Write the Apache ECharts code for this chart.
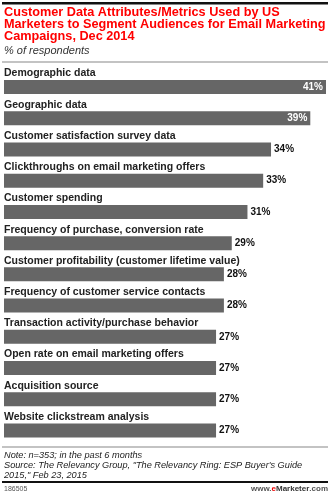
<!DOCTYPE html>
<html><head><meta charset="utf-8">
<script src="https://cdn.jsdelivr.net/npm/echarts@6/dist/echarts.min.js"></script>
<style>html,body{margin:0;padding:0;background:#fff}#c{width:330px;height:500px}</style>
</head><body><div id="c"></div>
<script>
const titleText = "Customer Data Attributes/Metrics Used by US\nMarketers to Segment Audiences for Email Marketing\nCampaigns, Dec 2014";
const subtitleText = "% of respondents";
const categories = [
  "Demographic data",
  "Geographic data",
  "Customer satisfaction survey data",
  "Clickthroughs on email marketing offers",
  "Customer spending",
  "Frequency of purchase, conversion rate",
  "Customer profitability (customer lifetime value)",
  "Frequency of customer service contacts",
  "Transaction activity/purchase behavior",
  "Open rate on email marketing offers",
  "Acquisition source",
  "Website clickstream analysis"
];
const values = [41, 39, 34, 33, 31, 29, 28, 28, 27, 27, 27, 27];
const noteText = "Note: n=353; in the past 6 months\nSource: The Relevancy Group, \"The Relevancy Ring: ESP Buyer's Guide\n2015,\" Feb 23, 2015";
const idText = "186505";

const chart = echarts.init(document.getElementById('c'), null, {renderer: 'canvas'});
const FONT = 'Liberation Sans, Arial, sans-serif';
const data = values.map(v => {
  const inside = v >= 39;
  return {
    value: v,
    label: inside
      ? {position: 'insideRight', color: '#fff', distance: 3}
      : {position: 'right', color: '#111', distance: 3}
  };
});
chart.setOption({
  animation: false,
  title: [
    {text: titleText, left: 4, top: 7, padding: 0,
     textStyle: {color: '#ff0000', fontFamily: FONT, fontWeight: 'bold', fontSize: 12.7, lineHeight: 11.7}},
    {text: subtitleText, left: 4, top: 45, padding: 0,
     textStyle: {color: '#333', fontFamily: FONT, fontStyle: 'italic', fontWeight: 'normal', fontSize: 11, lineHeight: 12}},
    {text: noteText, left: 4, top: 450, padding: 0,
     textStyle: {color: '#222', fontFamily: FONT, fontStyle: 'italic', fontWeight: 'normal', fontSize: 9.2, lineHeight: 10}},
    {text: idText, left: 4, top: 485.5, padding: 0,
     textStyle: {color: '#555', fontFamily: FONT, fontWeight: 'normal', fontSize: 7, lineHeight: 8}},
    {text: '{a|www.}{b|e}{c|Marketer}{a|.com}', right: 2, top: 485, padding: 0,
     textStyle: {rich: {
       a: {color: '#555', fontFamily: FONT, fontSize: 8},
       b: {color: '#e00', fontFamily: FONT, fontSize: 8, fontWeight: 'bold'},
       c: {color: '#333', fontFamily: FONT, fontSize: 8, fontWeight: 'bold'}
     }}}
  ],
  graphic: [
    {type: 'rect', shape: {x: 2, y: 2, width: 326, height: 2.5}, style: {fill: '#111'}},
    {type: 'rect', shape: {x: 2, y: 61.5, width: 326, height: 1}, style: {fill: '#888'}},
    {type: 'rect', shape: {x: 2, y: 446.5, width: 326, height: 1}, style: {fill: '#888'}},
    {type: 'rect', shape: {x: 2, y: 481, width: 326, height: 2}, style: {fill: '#111'}}
  ],
  grid: {left: 4, right: 4, top: 71.4, bottom: 53.9, containLabel: false},
  xAxis: {type: 'value', min: 0, max: 41, show: false},
  yAxis: {
    type: 'category', data: categories, inverse: true,
    axisLine: {show: false}, axisTick: {show: false}, splitLine: {show: false},
    axisLabel: {inside: true, interval: 0, margin: 0, align: 'left', verticalAlign: 'bottom',
      padding: [0, 0, 8, 0], color: '#222', fontFamily: FONT, fontWeight: 'bold', fontSize: 10.5}
  },
  series: [{
    type: 'bar', data: data, barWidth: 14,
    itemStyle: {color: '#666666'},
    label: {show: true, formatter: '{c}%', fontFamily: FONT, fontWeight: 'bold', fontSize: 10},
    emphasis: {disabled: true}
  }]
});
</script></body></html>
